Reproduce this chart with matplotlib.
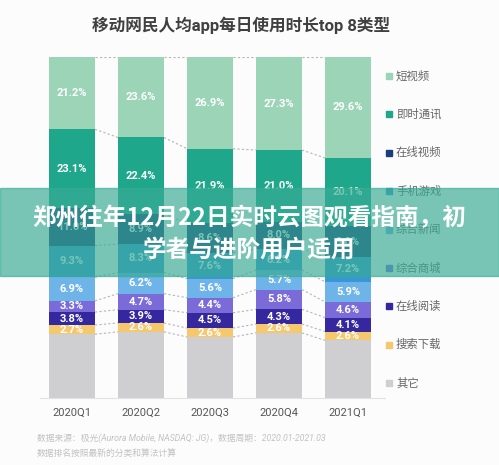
import matplotlib
matplotlib.use("Agg")
import matplotlib.pyplot as plt
from matplotlib.patches import Rectangle
import numpy as np

plt.rcParams['font.family'] = ['Roboto', 'Noto Sans CJK SC', 'DejaVu Sans']

quarters = ['2020Q1', '2020Q2', '2020Q3', '2020Q4', '2021Q1']
# top of the stack first
categories = ['短视频', '即时通讯', '在线视频', '手机游戏', '综合新闻', '综合商城', '在线阅读', '搜索下载', '其它']
short_video = [21.2, 23.6, 26.9, 27.3, 29.6]
im_chat = [23.1, 22.4, 21.9, 21.0, 20.1]
online_video = [11.0, 8.9, 8.6, 8.0, 9.0]
mobile_game = [9.3, 8.3, 7.6, 6.2, 7.2]
news = [6.9, 6.2, 5.6, 5.7, 5.9]
mall = [3.3, 4.7, 4.4, 5.8, 4.6]
reading = [3.8, 3.9, 4.5, 4.3, 4.1]
search = [2.7, 2.6, 2.6, 2.6, 2.6]
others = [18.7, 19.4, 17.9, 19.1, 16.9]

colors = ['#9bd4b7', '#1fa78b', '#1b3d7b', '#3a96d6', '#6fb4e8',
          '#7a6bd8', '#35289f', '#f5c86e', '#cfcfd2']


def main():
    series = [short_video, im_chat, online_video, mobile_game, news, mall, reading, search, others]
    fig = plt.figure(figsize=(4.99, 4.65), dpi=100, facecolor='#fcfcfd')
    ax = fig.add_axes([40 / 499, 67 / 465, 345 / 499, 341 / 465])
    ax.set_facecolor('#fcfcfd')

    x = np.arange(len(quarters))
    w = 0.667
    # stack from bottom (其它) to top (短视频)
    bottom = np.zeros(len(quarters))
    tops = []
    for vals, col, name in zip(series[::-1], colors[::-1], categories[::-1]):
        vals = np.array(vals)
        ax.bar(x, vals, width=w, bottom=bottom, color=col, edgecolor='none', zorder=2)
        if name != '其它':
            for xi, b, v in zip(x, bottom, vals):
                ax.text(xi, b + v / 2, f'{v:.1f}%', ha='center', va='center',
                        color='white', fontsize=8, fontweight='bold', zorder=3)
        bottom = bottom + vals
        tops.append(bottom.copy())

    # dashed connectors between bars
    for t in tops:
        for i in range(len(quarters) - 1):
            ax.plot([i + w / 2, i + 1 - w / 2], [t[i], t[i + 1]], color='#b5b5b5',
                    lw=0.8, ls=(0, (2, 2)), zorder=1)

    ax.set_xlim(-32 / 69, 313 / 69)
    ax.set_ylim(0, 100)
    ax.set_yticks([])
    ax.set_xticks(x)
    ax.set_xticklabels(quarters, fontsize=8, color='#555555')
    ax.tick_params(axis='x', length=0, pad=7)
    for s in ['top', 'right', 'left']:
        ax.spines[s].set_visible(False)
    ax.spines['bottom'].set_color('#e2e2e2')
    ax.spines['bottom'].set_linewidth(0.8)

    # legend on the right
    for k, (name, col) in enumerate(zip(categories, colors)):
        yy = 1 - (76 + k * 38.4) / 465
        fig.patches.append(Rectangle((386 / 499, yy - 3 / 465), 6 / 499, 6 / 465,
                                     transform=fig.transFigure, color=col, zorder=0.5))
        fig.text(396 / 499, yy, name, fontsize=8.2, color='#666666', va='center', ha='left')

    fig.text(241 / 499, 1 - 25 / 465, '移动网民人均app每日使用时长top 8类型',
             fontsize=12, fontweight='bold', color='#404040', ha='center', va='center')

    fig.text(37 / 499, 1 - 438 / 465, '数据来源：极光(Aurora Mobile, NASDAQ: JG)，数据周期：2020.01-2021.03',
             fontsize=6.3, color='#c2c2c2', style='italic', ha='left', va='center')
    fig.text(37 / 499, 1 - 453 / 465, '数据排名按照最新的分类和算法计算',
             fontsize=6.3, color='#c2c2c2', style='italic', ha='left', va='center')

    # overlay banner
    fig.patches.append(Rectangle((0, 1 - 276 / 465), 1, 88 / 465, transform=fig.transFigure,
                                 color=(55 / 255, 171 / 255, 148 / 255), alpha=0.67, zorder=4))
    fig.text(0.5, 1 - 218 / 465, '郑州往年12月22日实时云图观看指南，初', fontsize=17,
             fontweight='bold', color='white', ha='center', va='center', zorder=5,
             family=['Noto Sans CJK SC', 'DejaVu Sans'])
    fig.text(0.5, 1 - 250 / 465, '学者与进阶用户适用', fontsize=17,
             fontweight='bold', color='white', ha='center', va='center', zorder=5,
             family=['Noto Sans CJK SC', 'DejaVu Sans'])

    fig.savefig('out.png', dpi=100, facecolor=fig.get_facecolor())


if __name__ == "__main__":
    main()
